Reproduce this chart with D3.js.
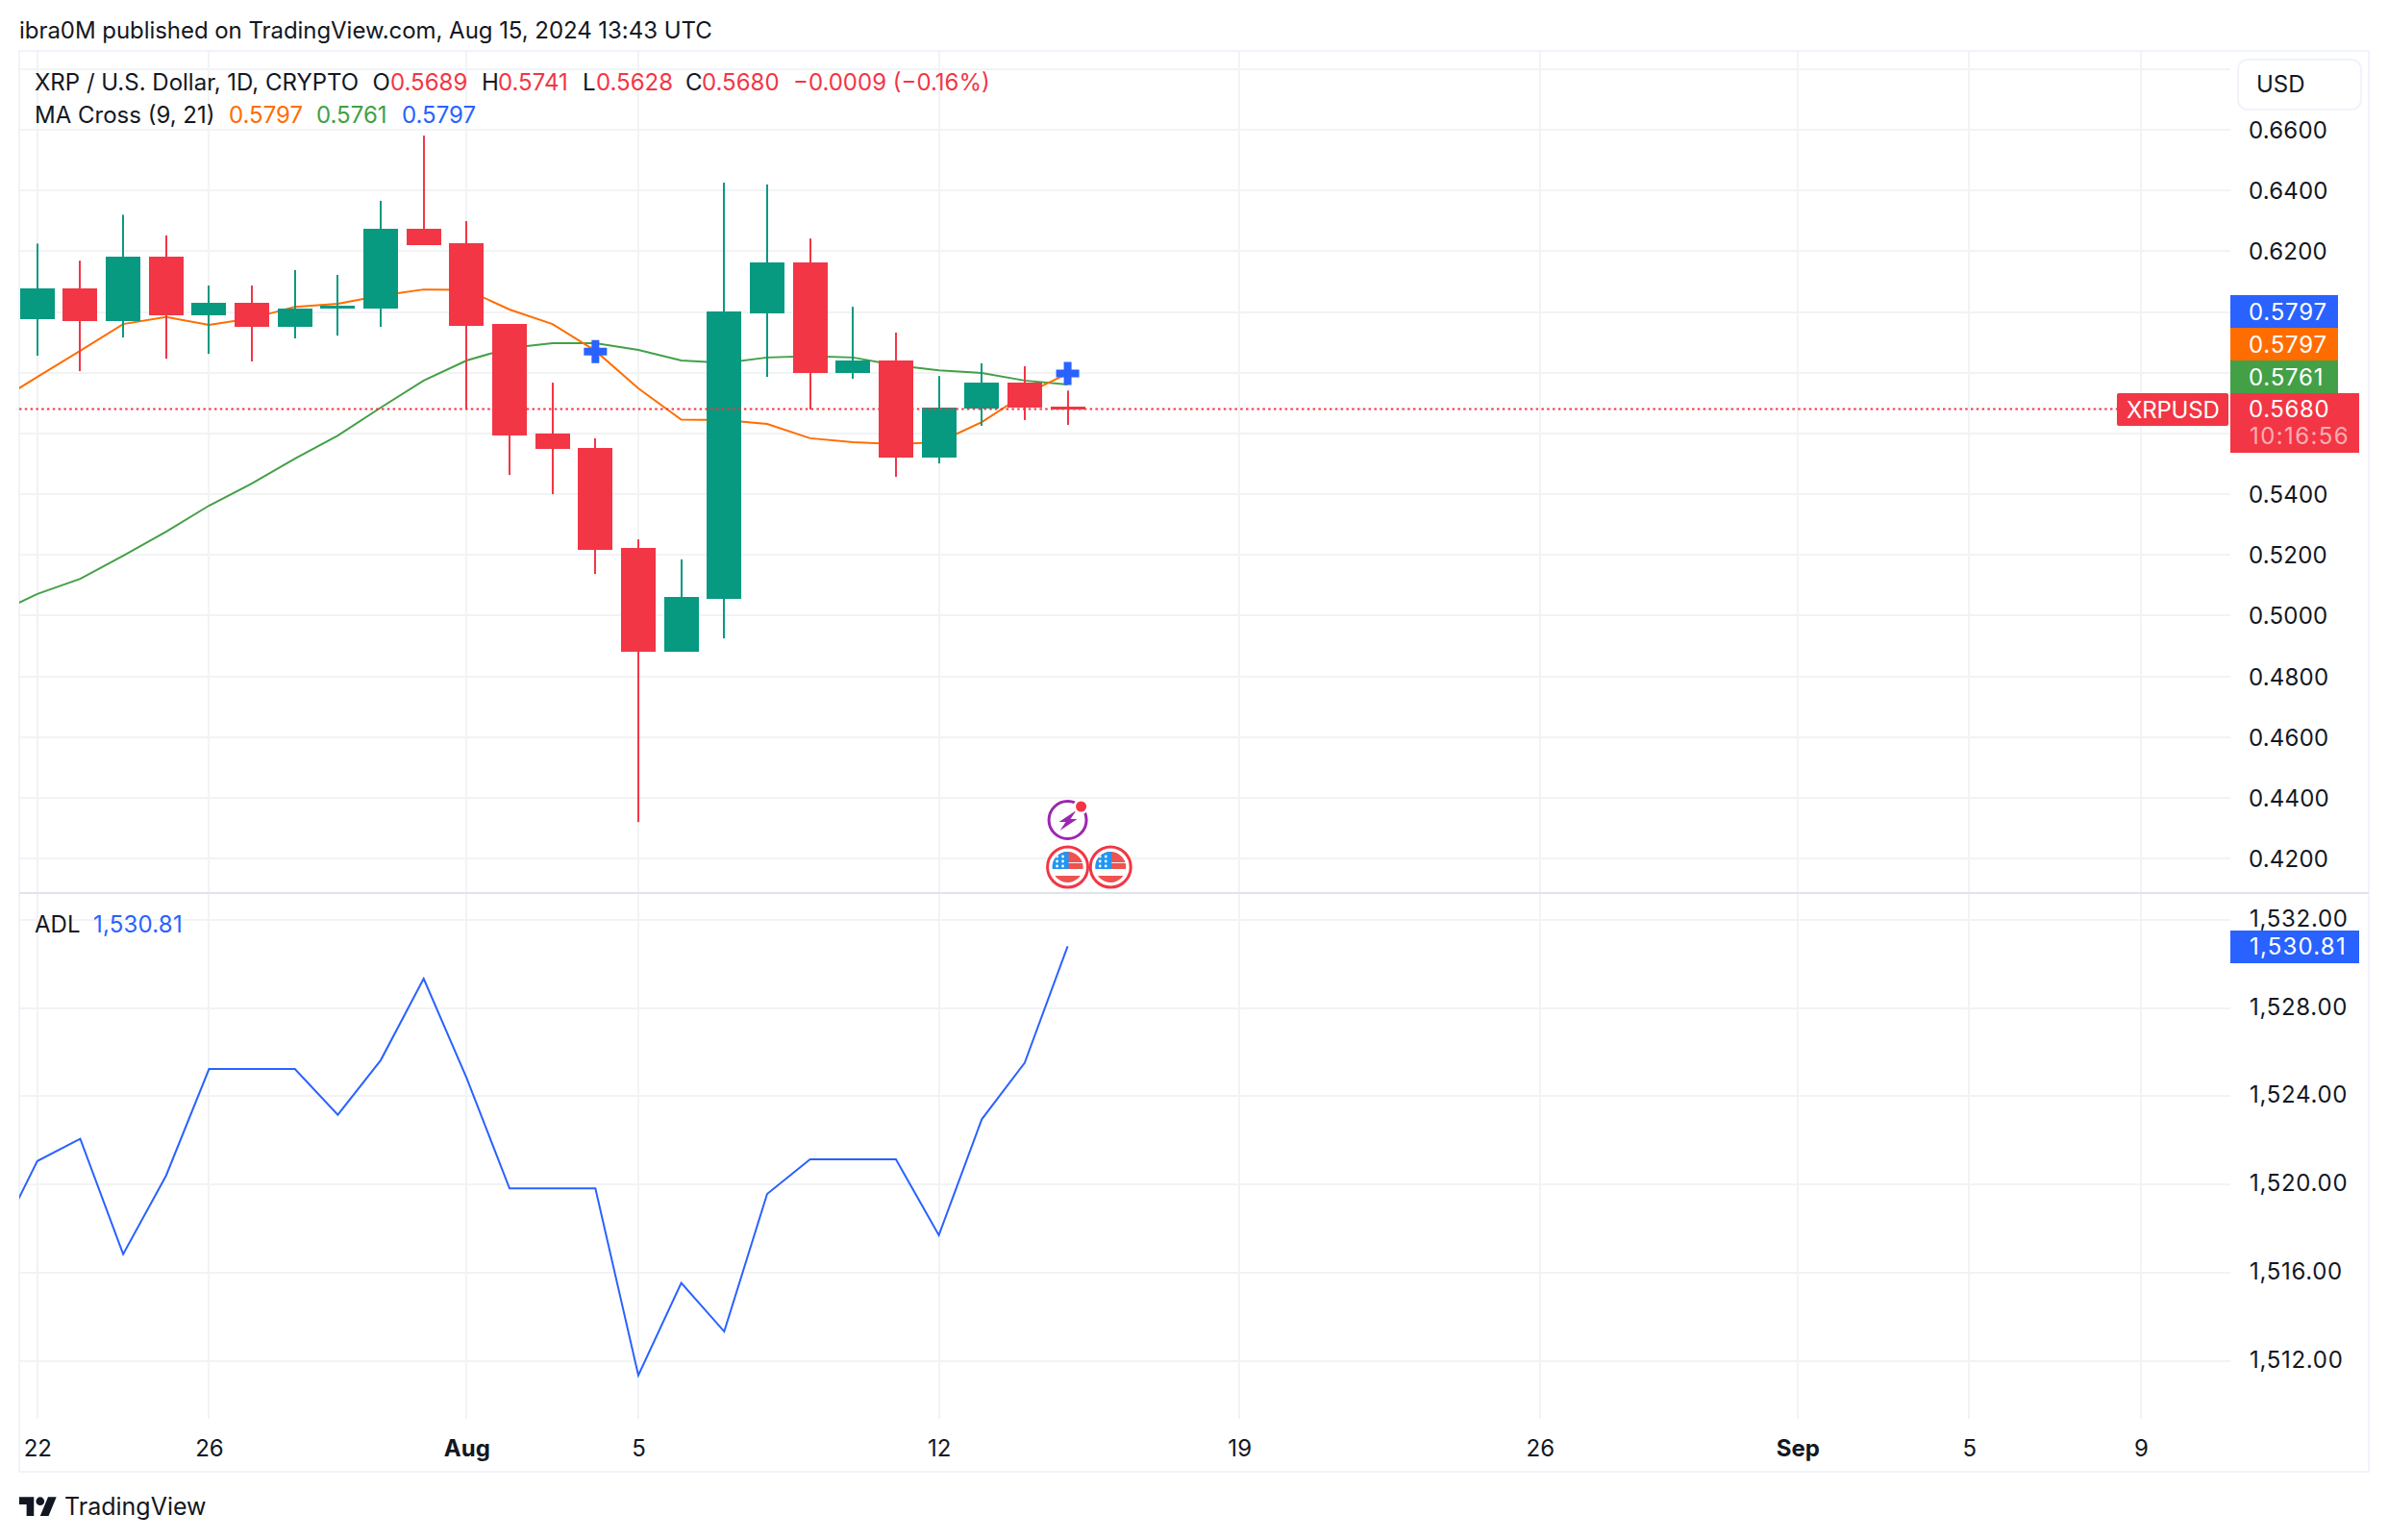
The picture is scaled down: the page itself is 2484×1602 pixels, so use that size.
<!DOCTYPE html>
<html>
<head>
<meta charset="utf-8">
<title>XRP / U.S. Dollar</title>
<script src="https://cdn.jsdelivr.net/npm/d3@7"></script>
<style>
  html, body { margin: 0; padding: 0; background: #fff; }
  svg { display: block; }
  text { font-family: Inter, "Noto Sans", sans-serif; font-size: 24px; fill: #131722; dominant-baseline: central; }
  .domain { display: none; }
  .pricetick text, .adltick text { font-size: 24px; }
</style>
</head>
<body>
<svg id="chart" width="2484" height="1602"></svg>
<script>
// daily candles, 22 Jul - 15 Aug 2024, index 0 is 22 Jul
var opens  = [0.5979,0.6078,0.5973,0.6182,0.5989,0.6030,0.5954,0.6014,0.6014,0.6274,0.6226,0.5960,0.5599,0.5552,0.5223,0.4881,0.5058,0.5998,0.6163,0.5802,0.5840,0.5523,0.5682,0.5767,0.5689];
var highs  = [0.6225,0.6169,0.6320,0.6252,0.6087,0.6087,0.6138,0.6122,0.6366,0.6581,0.6299,0.5960,0.5767,0.5584,0.5251,0.5185,0.6426,0.6420,0.6242,0.6017,0.5932,0.5789,0.5831,0.5821,0.5741];
var lows   = [0.5856,0.5805,0.5916,0.5846,0.5862,0.5837,0.5913,0.5922,0.5951,0.6220,0.5679,0.5463,0.5400,0.5137,0.4320,0.4881,0.4925,0.5786,0.5679,0.5780,0.5457,0.5501,0.5625,0.5644,0.5628];
var closes = [0.6078,0.5973,0.6182,0.5989,0.6030,0.5954,0.6011,0.6020,0.6274,0.6223,0.5957,0.5596,0.5549,0.5219,0.4881,0.5061,0.6002,0.6163,0.5802,0.5840,0.5523,0.5685,0.5767,0.5685,0.5680];

// moving averages and ADL start one day before the first candle (index -1)
var ma9  = [0.5698,0.5786,0.5872,0.5960,0.5983,0.5957,0.5979,0.6017,0.6027,0.6054,0.6074,0.6073,0.6008,0.5960,0.5872,0.5748,0.5645,0.5644,0.5631,0.5584,0.5571,0.5565,0.5571,0.5637,0.5729,0.5797];
var ma21 = [0.5004,0.5071,0.5121,0.5197,0.5276,0.5362,0.5435,0.5517,0.5593,0.5685,0.5774,0.5840,0.5881,0.5897,0.5897,0.5875,0.5840,0.5832,0.5850,0.5854,0.5850,0.5824,0.5808,0.5799,0.5774,0.5761];
var adl  = [1517.14,1521.06,1522.07,1516.84,1520.40,1525.24,1525.24,1525.24,1523.16,1525.64,1529.34,1524.83,1519.82,1519.82,1519.82,1511.34,1515.53,1513.33,1519.57,1521.14,1521.14,1521.14,1517.70,1522.96,1525.52,1530.81];

var crossIdx = [13, 24];
var crossPrice = [0.5869, 0.5797];

var dateTicks  = [0, 4, 10, 14, 21, 28, 35, 41, 45, 49];
var dateLabels = ['22', '26', 'Aug', '5', '12', '19', '26', 'Sep', '5', '9'];
var boldLabels = ['Aug', 'Sep'];

var priceGrid   = [0.68,0.66,0.64,0.62,0.60,0.58,0.56,0.54,0.52,0.50,0.48,0.46,0.44,0.42];
var priceLabels = [0.66,0.64,0.62,0.54,0.52,0.50,0.48,0.46,0.44,0.42];
var adlTicks    = [1532,1528,1524,1520,1516,1512];

var lastPrice = 0.5680;

var GREEN = '#089981', RED = '#F23645', BLUE = '#2962FF', ORANGE = '#FF6D00', MAGREEN = '#43A047';
var GRID = '#f2f3f5', BORDER = '#f0f3fa', INK = '#131722';

var left = 20, right = 2320, frameRight = 2464, top_ = 53, paneBottom = 1476, frameBottom = 1531, sep = 929;

var svg = d3.select('#chart');

var x = d3.scaleLinear().domain([0, 49]).range([38.8, 2227]);
var y = d3.scaleLinear().domain([0.66, 0.42]).range([135, 893]);
var yAdl = d3.scaleLinear().domain([1532, 1512]).range([957, 1415.6]);

var defs = svg.append('defs');
defs.append('clipPath').attr('id', 'plot-clip')
  .append('rect').attr('x', left).attr('y', top_).attr('width', right - left).attr('height', paneBottom - top_);

// grid
var grid = svg.append('g').attr('fill', 'none').attr('stroke', GRID).attr('stroke-width', 2);
grid.selectAll('line.p').data(priceGrid).enter().append('line').attr('class', 'p')
  .attr('x1', left).attr('x2', right)
  .attr('y1', function(d) { return Math.round(y(d)); })
  .attr('y2', function(d) { return Math.round(y(d)); });
grid.selectAll('line.a').data(adlTicks).enter().append('line').attr('class', 'a')
  .attr('x1', left).attr('x2', right)
  .attr('y1', function(d) { return Math.round(yAdl(d)); })
  .attr('y2', function(d) { return Math.round(yAdl(d)); });
grid.selectAll('line.d').data(dateTicks).enter().append('line').attr('class', 'd')
  .attr('x1', function(d) { return Math.round(x(d)); })
  .attr('x2', function(d) { return Math.round(x(d)); })
  .attr('y1', top_).attr('y2', paneBottom);

// frame
svg.append('rect').attr('x', left).attr('y', top_).attr('width', frameRight - left).attr('height', frameBottom - top_)
  .attr('fill', 'none').attr('stroke', BORDER).attr('stroke-width', 2);
svg.append('line').attr('x1', left).attr('x2', frameRight).attr('y1', sep).attr('y2', sep)
  .attr('stroke', '#e0e3eb').attr('stroke-width', 2);

var plot = svg.append('g').attr('clip-path', 'url(#plot-clip)');

// moving averages sit behind the candles
var maLine = d3.line()
  .x(function(d, i) { return x(i - 1); })
  .y(function(d) { return y(d); });
plot.append('path').datum(ma21).attr('d', maLine).attr('fill', 'none').attr('stroke', MAGREEN).attr('stroke-width', 2);
plot.append('path').datum(ma9).attr('d', maLine).attr('fill', 'none').attr('stroke', ORANGE).attr('stroke-width', 2);

// candles
var candles = plot.selectAll('g.candle').data(opens).enter().append('g').attr('class', 'candle');
function candleColor(i) { return closes[i] >= opens[i] ? GREEN : RED; }
function bodyTop(i) { return Math.round(y(Math.max(opens[i], closes[i]))); }
function bodyBottom(i) { return Math.ceil(y(Math.min(opens[i], closes[i]))); }
candles.append('rect')
  .attr('x', function(d, i) { return Math.round(x(i)) - 1; })
  .attr('width', 2)
  .attr('y', function(d, i) { return y(highs[i]); })
  .attr('height', function(d, i) { return y(lows[i]) - y(highs[i]); })
  .attr('fill', function(d, i) { return candleColor(i); });
candles.append('rect')
  .attr('x', function(d, i) { return Math.round(x(i)) - 18; })
  .attr('width', 36)
  .attr('y', function(d, i) { return bodyTop(i); })
  .attr('height', function(d, i) { return Math.max(2, bodyBottom(i) - bodyTop(i)); })
  .attr('fill', function(d, i) { return candleColor(i); });

// last price line
svg.append('line')
  .attr('x1', left).attr('x2', 2202)
  .attr('y1', y(lastPrice)).attr('y2', y(lastPrice))
  .attr('stroke', RED).attr('stroke-width', 2).attr('stroke-dasharray', '2.5 3.3');

// cross markers, d3 cross spans 6r where r = sqrt(size / 5) / 2
plot.selectAll('path.cross').data(crossIdx).enter().append('path').attr('class', 'cross')
  .attr('d', d3.symbol().type(d3.symbolCross).size(320))
  .attr('transform', function(d, i) { return 'translate(' + x(d) + ',' + y(crossPrice[i]) + ')'; })
  .attr('fill', BLUE);

// ADL
var adlLine = d3.line()
  .x(function(d, i) { return x(i - 1); })
  .y(function(d) { return yAdl(d); });
plot.append('path').datum(adl).attr('d', adlLine).attr('fill', 'none').attr('stroke', BLUE).attr('stroke-width', 2);

// event icons under the last candle
function flagIcon(cx, cy, id) {
  var r = 21;
  var g = svg.append('g').attr('transform', 'translate(' + cx + ',' + cy + ')');
  defs.append('clipPath').attr('id', id).append('circle').attr('r', r - 5);
  g.append('circle').attr('r', r).attr('fill', '#fff').attr('stroke', RED).attr('stroke-width', 3);
  var f = g.append('g').attr('clip-path', 'url(#' + id + ')');
  f.append('rect').attr('x', -r).attr('y', -r).attr('width', 2 * r).attr('height', 2 * r).attr('fill', '#fff');
  f.append('rect').attr('x', -r).attr('y', -r).attr('width', 2 * r).attr('height', r).attr('fill', '#f0f1f3');
  f.append('rect').attr('x', -r).attr('y', -r).attr('width', 2 * r).attr('height', 7 + r - 12).attr('fill', '#ef5350');
  f.append('rect').attr('x', 0).attr('y', -4).attr('width', r).attr('height', 6).attr('fill', '#ef5350');
  f.append('rect').attr('x', -r).attr('y', 9).attr('width', 2 * r).attr('height', 10).attr('fill', '#ef5350');
  f.append('rect').attr('x', -r).attr('y', -r).attr('width', r + 1).attr('height', r + 2).attr('fill', '#2196f3');
  [[-11, -11], [-5, -11], [-11, -6], [-5, -6], [-11, -1], [-5, -1]].forEach(function(s) {
    f.append('circle').attr('cx', s[0]).attr('cy', s[1]).attr('r', 1.4).attr('fill', '#fff');
  });
}
flagIcon(x(24), 902, 'flag-a');
flagIcon(x(25), 902, 'flag-b');

var bolt = svg.append('g').attr('transform', 'translate(' + x(24) + ',853)');
bolt.append('circle').attr('r', 19.5).attr('fill', '#fff').attr('stroke', '#9c27b0').attr('stroke-width', 3);
bolt.append('path').attr('d', 'M9 -10 L-9 2 L-2 2 L-8 11 L10 -1 L3 -1 Z').attr('fill', '#9c27b0');
bolt.append('circle').attr('cx', 14).attr('cy', -14).attr('r', 8).attr('fill', '#fff');
bolt.append('circle').attr('cx', 14).attr('cy', -14).attr('r', 5.5).attr('fill', RED);

// price axis
var priceAxis = d3.axisRight(y).tickValues(priceLabels).tickSize(0).tickPadding(0).tickFormat(d3.format('.4f'));
svg.append('g').attr('class', 'pricetick').attr('transform', 'translate(2339,0)').call(priceAxis)
  .selectAll('text').attr('dy', null).attr('fill', INK).style('letter-spacing', '0.2px');

var adlAxis = d3.axisRight(yAdl).tickValues(adlTicks).tickSize(0).tickPadding(0).tickFormat(d3.format(',.2f'));
svg.append('g').attr('class', 'adltick').attr('transform', 'translate(2340,-2)').call(adlAxis)
  .selectAll('text').attr('dy', null).attr('fill', INK).style('letter-spacing', '0.7px');

// date axis
var dateAxis = d3.axisBottom(x).tickValues(dateTicks).tickSize(0).tickPadding(0)
  .tickFormat(function(d, i) { return dateLabels[i]; });
svg.append('g').attr('transform', 'translate(0,1506)').call(dateAxis)
  .selectAll('text').attr('dy', null).attr('y', 0)
  .attr('fill', INK)
  .style('font-size', '24px')
  .style('font-weight', function(d, i) { return boldLabels.indexOf(dateLabels[i]) > -1 ? 700 : 400; });

// helpers for the text bits
function label(px, py, txt, color, extra, spacing) {
  var t = svg.append('text').attr('x', px).attr('y', py).text(txt);
  if (color) t.style('fill', color);
  if (extra) t.style('font-size', extra);
  if (spacing) t.style('letter-spacing', spacing);
  return t;
}
function badge(bx, by, w, h, color) {
  svg.append('rect').attr('x', bx).attr('y', by).attr('width', w).attr('height', h).attr('fill', color);
}

label(20, 31, 'ibra0M published on TradingView.com, Aug 15, 2024 13:43 UTC', null, null, '-0.05px');

// legend
label(36, 85, 'XRP / U.S. Dollar, 1D, CRYPTO');
label(387.5, 85, 'O'); label(406, 85, '0.5689', RED);
label(501, 85, 'H');   label(518, 85, '0.5741', RED);
label(606, 85, 'L');   label(620, 85, '0.5628', RED);
label(713, 85, 'C');   label(730, 85, '0.5680', RED);
label(825, 85, '\u22120.0009 (\u22120.16%)', RED);
label(36, 119, 'MA Cross (9, 21)');
label(238, 119, '0.5797', ORANGE);
label(329, 119, '0.5761', MAGREEN);
label(418, 119, '0.5797', BLUE);
label(36, 961, 'ADL');
label(97, 961, '1,530.81', BLUE, null, '0.2px');

// USD button
svg.append('rect').attr('x', 2328).attr('y', 62).attr('width', 128).attr('height', 52).attr('rx', 10)
  .attr('fill', '#fff').attr('stroke', BORDER).attr('stroke-width', 2);
label(2347, 87, 'USD');

// price badges
badge(2320, 307, 112, 34, BLUE);   label(2339, 324, '0.5797', '#fff', null, '0.8px');
badge(2320, 341, 112, 34, ORANGE); label(2339, 358, '0.5797', '#fff', null, '0.8px');
badge(2320, 375, 112, 34, MAGREEN); label(2339, 392, '0.5761', '#fff', null, '0.8px');
badge(2320, 409, 134, 62, RED);    label(2339, 425.5, '0.5680', '#fff', null, '0.6px');
label(2340, 453, '10:16:56', 'rgba(255,255,255,0.6)', null, '1.4px');
svg.append('rect').attr('x', 2202).attr('y', 409).attr('width', 116).attr('height', 34).attr('rx', 2).attr('fill', RED);
label(2212, 426, 'XRPUSD', '#fff', null, '-0.2px');
badge(2320, 968, 134, 34, BLUE);   label(2340, 984, '1,530.81', '#fff', null, '1.2px');

// logo
var logo = svg.append('g').attr('transform', 'translate(20,1553) scale(1.09)').attr('fill', INK);
logo.append('path').attr('d', 'M14 22H7V11H0V4h14v18zM28 22h-8l7.5-18h8L28 22z');
logo.append('circle').attr('cx', 20).attr('cy', 8).attr('r', 4);
label(67, 1567, 'TradingView', INK, '25px');
</script>
</body>
</html>
